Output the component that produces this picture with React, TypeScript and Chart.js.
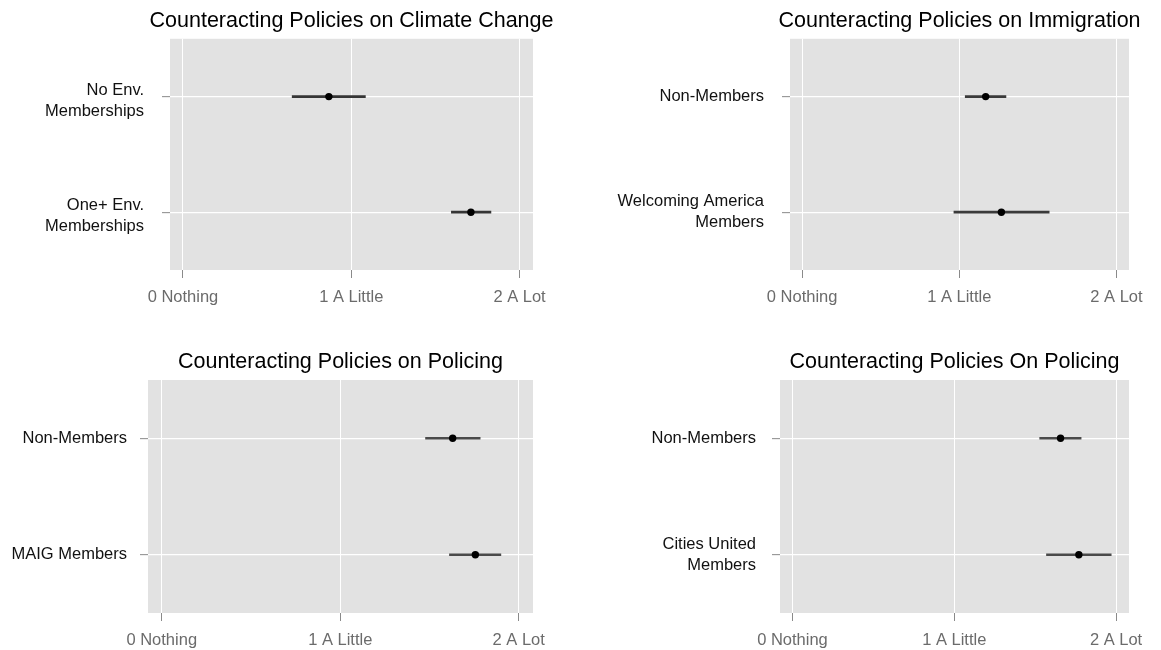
import React, { useEffect, useRef } from "react";
import { Chart, registerables } from "chart.js";

Chart.register(...registerables);

// ---------- data ----------
const xTickValues = [0, 1, 2];
const xTickLabels = ["0 Nothing", "1 A Little", "2 A Lot"];
const xMin = -0.077;
const xMax = 2.08;

const climateTitle = "Counteracting Policies on Climate Change";
const climateLabels = [["No Env.", "Memberships"], ["One+ Env.", "Memberships"]];
const climateMeans = [0.867, 1.711];
const climateLow = [0.649, 1.595];
const climateHigh = [1.084, 1.83];

const immigrationTitle = "Counteracting Policies on Immigration";
const immigrationLabels = ["Non-Members", ["Welcoming America", "Members"]];
const immigrationMeans = [1.168, 1.268];
const immigrationLow = [1.038, 0.966];
const immigrationHigh = [1.297, 1.572];

const maigTitle = "Counteracting Policies on Policing";
const maigLabels = ["Non-Members", "MAIG Members"];
const maigMeans = [1.63, 1.757];
const maigLow = [1.478, 1.612];
const maigHigh = [1.784, 1.9];

const citiesTitle = "Counteracting Policies On Policing";
const citiesLabels = ["Non-Members", ["Cities United", "Members"]];
const citiesMeans = [1.657, 1.77];
const citiesLow = [1.528, 1.57];
const citiesHigh = [1.784, 1.97];

const FONT = "'Liberation Sans', Arial, Helvetica, sans-serif";

type PanelProps = {
  title: string;
  labels: any[];
  means: number[];
  low: number[];
  high: number[];
  left: number;
  top: number;
  width: number;
  height: number;
  plotLeft: number;
  plotRight: number;
  plotTop: number;
  plotBottom: number;
  labelPad: number;
  labelShift: number;
  barColor: string;
};

const bgPlugin = {
  id: "panelBg",
  beforeDraw(chart: any) {
    const { ctx, chartArea } = chart;
    ctx.save();
    ctx.fillStyle = "#e2e2e2";
    ctx.fillRect(chartArea.left, chartArea.top, chartArea.right - chartArea.left, chartArea.bottom - chartArea.top);
    ctx.restore();
  },
};

const titlePlugin = {
  id: "panelTitle",
  afterDraw(chart: any, _args: any, opts: any) {
    const { ctx, chartArea } = chart;
    ctx.save();
    ctx.font = `21.5px ${FONT}`;
    ctx.fillStyle = "#000000";
    ctx.textAlign = "center";
    ctx.textBaseline = "middle";
    ctx.fillText(opts.text, (chartArea.left + chartArea.right) / 2, chartArea.top - 17.5);
    ctx.restore();
  },
};

function Panel(p: PanelProps) {
  const ref = useRef<HTMLCanvasElement>(null);
  useEffect(() => {
    if (!ref.current) return;
    const chart = new Chart(ref.current, {
      type: "bar",
      data: {
        labels: p.labels,
        datasets: [
          {
            type: "scatter",
            data: p.means.map((m, i) => ({ x: m, y: i })),
            pointRadius: 3.7,
            pointBackgroundColor: "#000000",
            pointBorderWidth: 0,
            borderColor: "#000000",
            showLine: false,
          } as any,
          {
            type: "bar",
            data: p.low.map((l, i) => [l, p.high[i]]),
            backgroundColor: p.barColor,
            borderWidth: 0,
            barThickness: 2,
          } as any,
        ],
      },
      options: {
        indexAxis: "y",
        animation: false,
        responsive: false,
        events: [],
        layout: {
          padding: {
            left: 0,
            top: p.plotTop - p.top,
            right: p.left + p.width - p.plotRight,
            bottom: 0,
          },
        },
        plugins: {
          legend: { display: false },
          tooltip: { enabled: false },
          title: { display: false },
          panelTitle: { text: p.title },
        } as any,
        scales: {
          x: {
            type: "linear",
            min: xMin,
            max: xMax,
            afterBuildTicks: (scale: any) => {
              scale.ticks = xTickValues.map((v) => ({ value: v }));
            },
            afterFit: (scale: any) => {
              scale.height = p.top + p.height - p.plotBottom;
            },
            grid: {
              color: "#ffffff",
              lineWidth: 1,
              tickColor: "#8a8a8a",
              tickLength: 8,
              tickWidth: 1,
            },
            border: { display: false },
            ticks: {
              autoSkip: false,
              maxRotation: 0,
              padding: 10,
              color: "#6b6b6b",
              font: { family: FONT, size: 16.5 },
              callback: (_v: any, i: number) => xTickLabels[i],
            },
          },
          y: {
            type: "category",
            offset: true,
            afterFit: (scale: any) => {
              scale.width = p.plotLeft - p.left;
            },
            grid: {
              offset: false,
              color: "#ffffff",
              lineWidth: 1.3,
              tickColor: "#8a8a8a",
              tickLength: 8,
              tickWidth: 1,
            },
            border: { display: false },
            ticks: {
              autoSkip: false,
              padding: p.labelPad,
              labelOffset: p.labelShift,
              color: "#111111",
              font: { family: FONT, size: 16.5, lineHeight: 1.26 },
            },
          },
        },
      },
      plugins: [bgPlugin, titlePlugin],
    });
    return () => chart.destroy();
  }, []);
  return (
    <canvas
      ref={ref}
      width={p.width}
      height={p.height}
      style={{ position: "absolute", left: p.left, top: p.top, width: p.width, height: p.height }}
    />
  );
}

export default function App() {
  return (
    <div style={{ position: "absolute", left: 0, top: 0, width: 1161, height: 650, background: "#ffffff" }}>
      <Panel title={climateTitle} labels={climateLabels} means={climateMeans} low={climateLow} high={climateHigh}
        left={0} top={0} width={580} height={325} plotLeft={170} plotRight={533} plotTop={37} plotBottom={270}
        labelPad={18} labelShift={4} barColor="#353535" />
      <Panel title={immigrationTitle} labels={immigrationLabels} means={immigrationMeans} low={immigrationLow} high={immigrationHigh}
        left={580} top={0} width={581} height={325} plotLeft={790} plotRight={1129} plotTop={37} plotBottom={270}
        labelPad={18} labelShift={0} barColor="#3a3a3a" />
      <Panel title={maigTitle} labels={maigLabels} means={maigMeans} low={maigLow} high={maigHigh}
        left={0} top={325} width={580} height={325} plotLeft={148} plotRight={533} plotTop={380} plotBottom={613}
        labelPad={13} labelShift={0} barColor="#4a4a4a" />
      <Panel title={citiesTitle} labels={citiesLabels} means={citiesMeans} low={citiesLow} high={citiesHigh}
        left={580} top={325} width={581} height={325} plotLeft={780} plotRight={1129} plotTop={380} plotBottom={613}
        labelPad={16} labelShift={0} barColor="#4a4a4a" />
    </div>
  );
}
